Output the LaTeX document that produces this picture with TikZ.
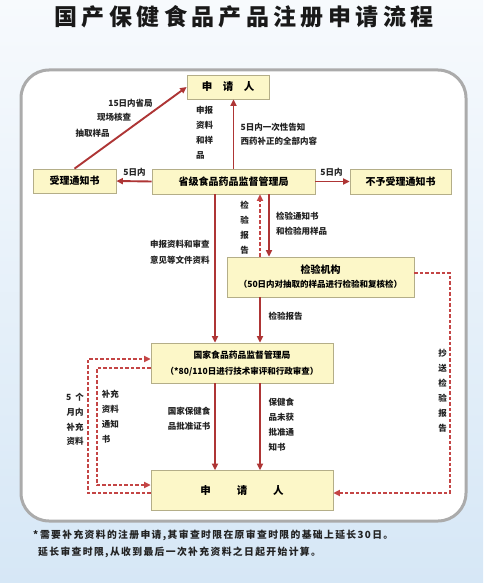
\documentclass[tikz,border=0pt]{standalone}
\usepackage{fontspec}
\usetikzlibrary{arrows.meta}
\newfontfamily\cjk{Noto Sans CJK SC}
\newfontfamily\cjktitle[LetterSpace=19]{Noto Sans CJK SC}
\newfontfamily\cjkfoot[LetterSpace=14]{Noto Sans CJK SC}
\definecolor{arrred}{HTML}{AE3535}
\definecolor{dashred}{HTML}{C44545}
\definecolor{boxfill}{HTML}{FCF7C8}
\definecolor{boxline}{HTML}{B4AE88}
\definecolor{panelline}{HTML}{ABABAB}
\definecolor{lbltext}{HTML}{222222}
\definecolor{bgtop}{HTML}{F7FAFD}
\definecolor{bgbot}{HTML}{D6E7F6}
\begin{document}
\begin{tikzpicture}[x=1pt,y=-1pt,
  box/.style={draw=boxline, fill=boxfill, line width=0.7pt, inner sep=0pt,
    font=\cjk\bfseries\fontsize{10}{15}\selectfont, align=center, text=black},
  arr/.style={draw=arrred, line width=1.9pt, -{Triangle[length=6.5pt,width=6pt]}},
  dsh/.style={draw=dashred, line width=1.9pt, dash pattern=on 3.5pt off 2pt},
  dsharr/.style={dsh, -{Triangle[length=6.5pt,width=6pt]}},
  lbl/.style={font=\cjk\bfseries\fontsize{8.5}{15}\selectfont, text=lbltext, inner sep=0pt, align=left},
]
\useasboundingbox (0,0) rectangle (483,583);
\shade[top color=bgtop, bottom color=bgbot] (0,0) rectangle (483,583);
\filldraw[fill=white, draw=panelline, line width=3pt, rounded corners=28pt] (21,70) rectangle (466,521);

\node[font=\cjktitle\bfseries\fontsize{23}{25}\selectfont, text=black!90] (title) at (244,17) {国产保健食品产品注册申请流程};

% boxes
\node[box, minimum width=82pt, minimum height=24pt, font=\cjk\bfseries\fontsize{10.5}{12}\selectfont] (appT) at (228,87) {申\hspace{1em}请\hspace{1em}人};
\node[box, minimum width=83pt, minimum height=24pt] (shouli) at (74.5,181) {受理通知书};
\node[box, minimum width=163pt, minimum height=25pt] (prov) at (233.5,181.5) {省级食品药品监督管理局};
\node[box, minimum width=101pt, minimum height=25pt] (buyu) at (400.5,181.5) {不予受理通知书};
\node[box, minimum width=187pt, minimum height=40pt] (jianyan) at (320.5,277)
  {检验机构\\[-1pt]{\fontsize{8.5}{10}\selectfont （50日内对抽取的样品进行检验和复核检）}};
\node[box, minimum width=182pt, minimum height=40pt, font=\cjk\bfseries\fontsize{8.8}{16}\selectfont] (guojia) at (242,363)
  {国家食品药品监督管理局\\{\fontsize{8.5}{10}\selectfont （*80/110日进行技术审评和行政审查）}};
\node[box, minimum width=182pt, minimum height=40pt, font=\cjk\bfseries\fontsize{10.5}{12}\selectfont] (appB) at (242,490.5) {申\hspace{26pt}请\hspace{26pt}人};

% helper coordinates
\coordinate (xL) at (215,0);
\coordinate (xM) at (260,0);
\coordinate (xR) at (269,0);
\coordinate (yJ) at (0,273);
\coordinate (cFar) at (450,493);
\coordinate (oB) at (88,493);
\coordinate (oT) at (88,359);
\coordinate (iT) at (97,368);
\coordinate (iB) at (97,485);

% connectors
\draw[arr] (shouli.north) -- (appT.west);
\draw[arr] (prov.west) -- (shouli.east);
\draw[arr] (prov.east) -- (buyu.west);
\draw[arr] (prov.north) -- (prov.north |- appT.south);
\draw[arr] (prov.south -| xL) -- (guojia.north -| xL);
\draw[dsharr] (jianyan.north -| xM) -- (prov.south -| xM);
\draw[arr] (prov.south -| xR) -- (jianyan.north -| xR);
\draw[arr] (jianyan.south -| xM) -- (guojia.north -| xM);
\draw[arr] (guojia.south -| xL) -- (appB.north -| xL);
\draw[arr] (guojia.south -| xM) -- (appB.north -| xM);
\draw[dsharr] (jianyan.east |- yJ) -| (cFar) -- (appB.east |- cFar);
\draw[dsharr] (appB.west |- oB) -- (oB) -- (oT) -- (guojia.west |- oT);
\draw[dsharr] (guojia.west |- iT) -- (iT) -- (iB) -- (appB.west |- iB);

% labels
\node[lbl] (l1a) at (130.5,103) {15日内省局};
\node[lbl] (l1b) at (114,117.5) {现场核查};
\node[lbl] (l1c) at (92.5,133) {抽取样品};
\node[lbl] (l2) at (134.5,172) {5日内};
\node[lbl, anchor=north west] (l3) at (196,106.5) {申报\\资料\\和样\\品};
\node[lbl, anchor=north west, font=\cjk\bfseries\fontsize{8.5}{14}\selectfont] (l4) at (240.5,123.2) {5日内一次性告知\\西药补正的全部内容};
\node[lbl] (l5) at (331.5,172) {5日内};
\node[lbl, anchor=north west, font=\cjk\bfseries\fontsize{8.5}{15.7}\selectfont] (l6) at (150,239.8) {申报资料和审查\\意见等文件资料};
\node[lbl, anchor=north, align=center] (l7) at (244.7,200.5) {检\\验\\报\\告};
\node[lbl, anchor=north west] (l8) at (276,211.5) {检验通知书\\和检验用样品};
\node[lbl, anchor=west] (l9) at (268.3,316) {检验报告};
\node[lbl, anchor=north, align=center, font=\cjk\bfseries\fontsize{8.5}{14.9}\selectfont] (l10) at (442.7,349.5) {抄\\送\\检\\验\\报\\告};
\node[lbl, anchor=north, align=center, font=\cjk\bfseries\fontsize{8.5}{14.7}\selectfont] (l11) at (75,393.2) {5\hspace{4pt}个\\月内\\补充\\资料};
\node[lbl, anchor=north west] (l12) at (101.7,389.5) {补充\\资料\\通知\\书};
\node[lbl, anchor=north west, font=\cjk\bfseries\fontsize{8.5}{15.7}\selectfont] (l13) at (167.7,406.5) {国家保健食\\品批准证书};
\node[lbl, anchor=north west] (l14) at (268.3,398.2) {保健食\\品未获\\批准通\\知书};

% footnote
\node[lbl, anchor=north west, font=\cjkfoot\bfseries\fontsize{9.8}{16.7}\selectfont] (foot) at (33,530)
  {*\,需要补充资料的注册申请,其审查时限在原审查时限的基础上延长30日。\\\hspace{5pt}延长审查时限,从收到最后一次补充资料之日起开始计算。};
\end{tikzpicture}
\end{document}
